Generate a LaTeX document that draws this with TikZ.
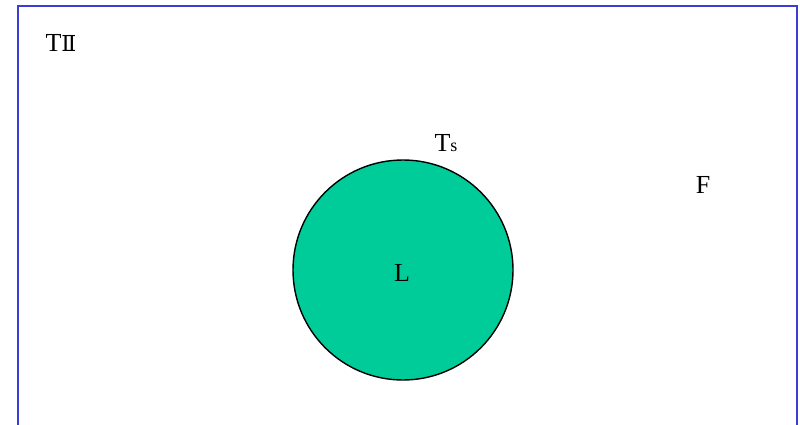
\documentclass[tikz,border=0pt]{standalone}
\usepackage{fontspec}
\setmainfont{Liberation Serif}
\newfontfamily\numfont{DejaVu Serif}
\definecolor{framebl}{RGB}{60,60,215}
\definecolor{liquid}{RGB}{0,204,153}
\tikzset{lbl/.style={font=\fontsize{26}{30}\selectfont,inner sep=0pt}}
\begin{document}
\begin{tikzpicture}[x=1pt,y=-1pt]
  \useasboundingbox (0,0) rectangle (800,425);
  \draw[framebl,line width=2pt] (18,425)--(18,6)--(797,6)--(797,425);
  \draw[black,fill=liquid,line width=1.4pt] (403,270) circle (110);
  \node[lbl] (Tii) at (61,43) {T{\numfont\fontsize{22}{26}\selectfont Ⅱ}};
  \node[lbl] (Ts) at (446,143) {T{\fontsize{18}{22}\selectfont s}};
  \node[lbl] (F) at (703,185) {F};
  \node[lbl] (L) at (402,273) {L};
\end{tikzpicture}
\end{document}
